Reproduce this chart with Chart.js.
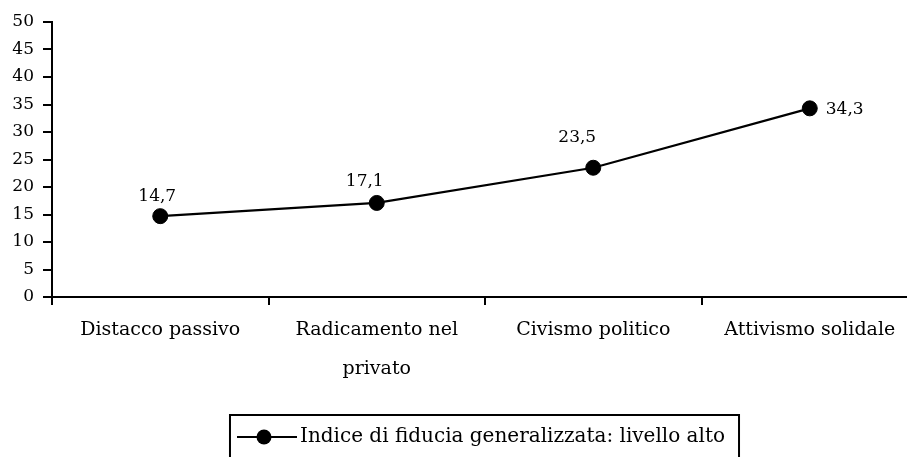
<!DOCTYPE html>
<html><head><meta charset="utf-8">
<script src="https://cdn.jsdelivr.net/npm/chart.js@4.4.1/dist/chart.umd.min.js"></script>
<style>
html,body{margin:0;padding:0;overflow:hidden;background:#fff;width:907px;height:457px}
#wrap{position:relative;width:969px;height:457px}
</style></head>
<body><div id="wrap"><canvas id="c" width="969" height="457"></canvas></div>
<script>
const categories = ["Distacco passivo", ["Radicamento nel", "privato"], "Civismo politico", "Attivismo solidale"];
const seriesName = "Indice di fiducia generalizzata: livello alto";
const values = [14.7, 17.1, 23.5, 34.3];
const valueLabels = ["14,7", "17,1", "23,5", "34,3"];
const yTicks = [0, 5, 10, 15, 20, 25, 30, 35, 40, 45, 50];

const FONT = "'DejaVu Serif', serif";
const FS_NUM = 17;   // numbers (ticks, value labels)
const FS_TXT = 19;   // category labels
const FS_LEG = 20;   // legend
Chart.defaults.font.family = FONT;
Chart.defaults.font.size = FS_NUM;
Chart.defaults.color = '#000';

// legend marker: line with a dot (image is centred on the legend box)
const mk = document.createElement('canvas');
mk.width = 61; mk.height = 18;
(function(){
  const g = mk.getContext('2d');
  g.strokeStyle = '#000'; g.fillStyle = '#000'; g.lineWidth = 2;
  g.beginPath(); g.moveTo(0, 9); g.lineTo(60, 9); g.stroke();
  g.beginPath(); g.arc(27, 9, 7.5, 0, Math.PI * 2); g.fill();
})();

// label placement (style, not data)
const labelPlacement = [
  {dx: -3, dy: -20, align: 'center'},
  {dx: -12, dy: -21, align: 'center'},
  {dx: -16, dy: -30, align: 'center'},
  {dx: 16, dy: 1, align: 'left'}
];

const dataLabels = {
  id: 'dataLabels',
  afterDatasetsDraw(chart) {
    const ctx = chart.ctx;
    const meta = chart.getDatasetMeta(0);
    ctx.save();
    ctx.font = FS_NUM + 'px ' + FONT;
    ctx.fillStyle = '#000';
    ctx.textBaseline = 'middle';
    meta.data.forEach((pt, i) => {
      const p = labelPlacement[i];
      ctx.textAlign = p.align;
      ctx.fillText(valueLabels[i], pt.x + p.dx, pt.y + p.dy);
    });
    ctx.restore();
  }
};

const legendBorder = {
  id: 'legendBorder',
  afterDraw(chart) {
    const lg = chart.legend;
    if (!lg || !lg.legendHitBoxes || !lg.legendHitBoxes.length) return;
    const hb = lg.legendHitBoxes[0];
    const ctx = chart.ctx;
    ctx.save();
    ctx.strokeStyle = '#000';
    ctx.lineWidth = 2;
    const left = hb.left - 15, right = hb.left + hb.width + 14;
    const top = hb.top + hb.height / 2 - 22;
    ctx.strokeRect(left, top, right - left, 60);
    ctx.restore();
  }
};

new Chart(document.getElementById('c'), {
  type: 'line',
  data: {
    labels: categories,
    datasets: [{
      label: seriesName,
      data: values,
      borderColor: '#000',
      backgroundColor: '#000',
      borderWidth: 2.2,
      pointRadius: 7.5,
      pointHoverRadius: 7.5,
      pointBackgroundColor: '#000',
      pointBorderColor: '#000',
      pointBorderWidth: 1,
      tension: 0,
      fill: false
    }]
  },
  options: {
    responsive: false,
    animation: false,
    devicePixelRatio: 1,
    layout: {padding: {top: 22, right: 51, left: 0, bottom: 0}},
    plugins: {
      tooltip: {enabled: false},
      legend: {
        position: 'bottom',
        align: 'center',
        fullSize: false,
        labels: {
          usePointStyle: true,
          pointStyleWidth: 45,
          boxHeight: FS_LEG,
          padding: 10,
          color: '#000',
          font: {size: FS_LEG, family: FONT},
          generateLabels: (chart) => [{
            text: seriesName,
            pointStyle: mk,
            fillStyle: '#000',
            strokeStyle: '#000',
            lineWidth: 0,
            hidden: false,
            datasetIndex: 0
          }]
        }
      }
    },
    scales: {
      x: {
        type: 'category',
        offset: true,
        afterFit: (s) => { s.height = 120; },
        grid: {offset: true, drawOnChartArea: false, drawTicks: true, tickLength: 8, color: '#000', lineWidth: 2},
        border: {display: true, color: '#000', width: 2},
        ticks: {color: '#000', padding: 6, maxRotation: 0, autoSkip: false, font: {size: FS_TXT, family: FONT, lineHeight: 2.05}}
      },
      y: {
        min: yTicks[0],
        max: yTicks[yTicks.length - 1],
        afterFit: (s) => { s.width = 52; },
        afterBuildTicks: (s) => { s.ticks = yTicks.map(v => ({value: v})); },
        grid: {drawOnChartArea: false, drawTicks: true, tickLength: 9, color: '#000', lineWidth: 2},
        border: {display: true, color: '#000', width: 2},
        ticks: {color: '#000', padding: 9, font: {size: FS_NUM, family: FONT}}
      }
    }
  },
  plugins: [dataLabels, legendBorder]
});
</script>
</body></html>
